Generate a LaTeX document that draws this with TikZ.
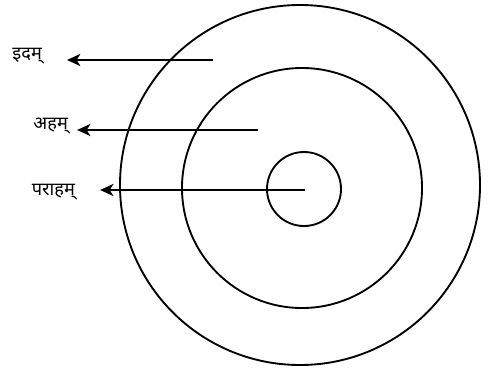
\documentclass[tikz,border=0pt]{standalone}
\usepackage{fontspec}
\newfontfamily\devfont[Script=Devanagari]{Noto Sans}
\usetikzlibrary{arrows.meta, positioning}

\begin{document}
\begin{tikzpicture}[
    x=0.03cm, y=-0.03cm,
    every node/.style={font=\devfont\fontsize{15.5}{18}\selectfont},
    ring/.style={circle, draw, line width=1.6pt, inner sep=0pt},
    pointer/.style={-{Stealth[length=4mm, width=3.6mm, inset=1.1mm]}, line width=1.8pt},
]
\useasboundingbox (0,0) rectangle (500,383);

% the three rings
\node[ring, minimum size=10.8cm] (outer) at (300,185) {};
\node[ring, minimum size=7.2cm] (middle) at (302,188) {};
\node[ring, minimum size=2.22cm] (inner) at (304,189) {};

% labels on the left
\node[anchor=east] (idam) at (46,56) {इदम्};
\node[anchor=east] (aham) at (72,126) {अहम्};
\node[anchor=east] (paraham) at (79,192) {पराहम्};

\coordinate (idamsrc) at (213,60);
\coordinate (ahamsrc) at (258,130);
\coordinate (parahamsrc) at (305,190);

\draw[pointer, shorten >=17.9pt] (idamsrc) -- (idamsrc -| idam.east);
\draw[pointer, shorten >=4.3pt] (ahamsrc) -- (ahamsrc -| aham.east);
\draw[pointer, shorten >=18pt] (parahamsrc) -- (parahamsrc -| paraham.east);

\end{tikzpicture}
\end{document}
